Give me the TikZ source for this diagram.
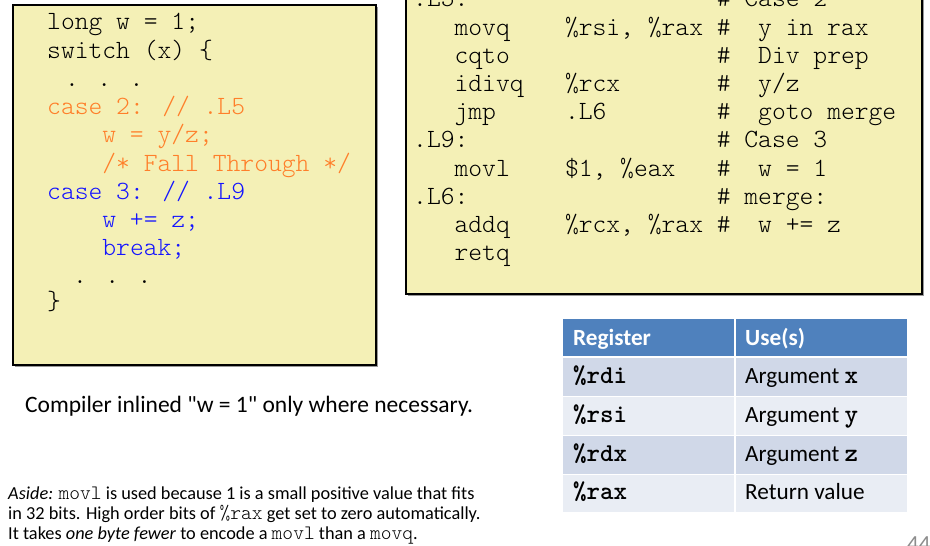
\documentclass[tikz,border=0pt]{standalone}
\usepackage{fontspec}
\setmainfont{Carlito}[Ligatures=TeXOff]
\setmonofont{lmmonolt10}[Extension=.otf, UprightFont=*-regular, BoldFont=*-bold]
\newfontfamily\codefont{lmmonolt10}[Extension=.otf, UprightFont=*-regular, BoldFont=*-bold]
\definecolor{boxfill}{HTML}{F4F0B6}
\definecolor{caseorange}{HTML}{FF7F2A}
\definecolor{caseblue}{HTML}{1414FF}
\definecolor{headblue}{HTML}{4F81BD}
\definecolor{rowdark}{HTML}{D0D8E8}
\definecolor{rowlight}{HTML}{E9EDF4}
\definecolor{pagegray}{HTML}{8C8C8C}
\tikzset{
  codebox/.style={draw=black, line width=2.6pt, fill=boxfill},
  boxshadow/.style={fill=black!40},
  code/.style={anchor=base west, inner sep=0pt, font=\codefont\fontsize{26.3}{28}\selectfont},
  cellhead/.style={anchor=base west, inner sep=0pt, text=white, font=\fontsize{23.2}{26}\selectfont\bfseries},
  cell/.style={anchor=base west, inner sep=0pt, font=\fontsize{23.2}{26}\selectfont},
  regname/.style={anchor=base west, inner sep=0pt, font=\ttfamily\bfseries\fontsize{25.7}{26}\selectfont},
  note/.style={anchor=base west, inner sep=0pt, font=\fontsize{23.5}{26}\selectfont},
  aside/.style={anchor=base west, inner sep=0pt, font=\fontsize{18.3}{20}\selectfont},
}
\newcommand\asidett[1]{{\ttfamily\fontsize{20.5}{20}\selectfont #1}}
\newcommand\argtt[1]{{\ttfamily\bfseries\fontsize{25.7}{26}\selectfont #1}}
\begin{document}
\begin{tikzpicture}[x=1pt,y=-1pt]
\useasboundingbox (0,0) rectangle (930,546);
\clip (0,0) rectangle (930,546);

% ---- C source box ----
\fill[boxshadow] (14.5,6.5) rectangle (377.5,366.5);
\draw[codebox] (13,5) rectangle (376,365);
\node[code] (c1) at (47,30) {long w = 1;};
\node[code] (c2) at (47,58.2) {switch (x) \{};
\node[code] (c3) at (65,86.4) {. . .};
\node[code, text=caseorange] (c4) at (47,114.6) {case 2: // .L5};
\node[code, text=caseorange] (c5) at (102.2,142.8) {w = y/z;};
\node[code, text=caseorange] (c6) at (102.2,171) {/* Fall Through */};
\node[code, text=caseblue] (c7) at (47,199.2) {case 3: // .L9};
\node[code, text=caseblue] (c8) at (102.2,227.4) {w += z;};
\node[code, text=caseblue] (c9) at (102.2,255.6) {break;};
\node[code] (c10) at (73,283.8) {. . .};
\node[code] (c11) at (47,309) {\}};

% ---- assembly box ----
% columns: label 413, mnemonic 454.4, operands 564.8, comment 716.6
\fill[boxshadow] (407.5,-20) rectangle (923.5,295.5);
\draw[codebox] (406,-20) rectangle (922,294);
\node[code] (l0) at (413,6.8) {.L5:};
\node[code] (k0) at (716.6,6.8) {\#~Case~2};
\node[code] (i1) at (454.4,35) {movq};
\node[code] (o1) at (564.8,35) {\%rsi, \%rax};
\node[code] (k1) at (716.6,35) {\#~~y in rax};
\node[code] (i2) at (454.4,63.2) {cqto};
\node[code] (k2) at (716.6,63.2) {\#~~Div prep};
\node[code] (i3) at (454.4,91.4) {idivq};
\node[code] (o3) at (564.8,91.4) {\%rcx};
\node[code] (k3) at (716.6,91.4) {\#~~y/z};
\node[code] (i4) at (454.4,119.6) {jmp};
\node[code] (o4) at (564.8,119.6) {.L6};
\node[code] (k4) at (716.6,119.6) {\#~~goto merge};
\node[code] (l5) at (413,147.8) {.L9:};
\node[code] (k5) at (716.6,147.8) {\#~Case~3};
\node[code] (i6) at (454.4,176) {movl};
\node[code] (o6) at (564.8,176) {\$1, \%eax};
\node[code] (k6) at (716.6,176) {\#~~w = 1};
\node[code] (l7) at (413,204.2) {.L6:};
\node[code] (k7) at (716.6,204.2) {\#~merge:};
\node[code] (i8) at (454.4,232.4) {addq};
\node[code] (o8) at (564.8,232.4) {\%rcx, \%rax};
\node[code] (k8) at (716.6,232.4) {\#~~w += z};
\node[code] (i9) at (454.4,260.6) {retq};

% ---- register table ----
\fill[headblue] (563,319) rectangle (907,357);
\fill[rowdark]  (563,357) rectangle (907,396.5);
\fill[rowlight] (563,396.5) rectangle (907,435.5);
\fill[rowdark]  (563,435.5) rectangle (907,474.5);
\fill[rowlight] (563,474.5) rectangle (907,512);
\draw[white, line width=2pt] (563,357) -- (907,357);
\draw[white, line width=1.5pt] (563,396.5) -- (907,396.5);
\draw[white, line width=1.5pt] (563,435.5) -- (907,435.5);
\draw[white, line width=1.5pt] (563,474.5) -- (907,474.5);
\draw[white, line width=1.5pt] (735,319) -- (735,512);
\node[cellhead] (h1) at (573,345) {Register};
\node[cellhead] (h2) at (745,345) {Use(s)};
\node[regname] (r1) at (573,383.5) {\%rdi};
\node[regname] (r2) at (573,422.5) {\%rsi};
\node[regname] (r3) at (573,461) {\%rdx};
\node[regname] (r4) at (573,499.5) {\%rax};
\node[cell] (u1) at (745,383.5) {Argument \argtt{x}};
\node[cell] (u2) at (745,422.5) {Argument \argtt{y}};
\node[cell] (u3) at (745,461) {Argument \argtt{z}};
\node[cell] (u4) at (745,499.5) {Return value};

% ---- notes ----
\node[note] (inl) at (25,412) {Compiler inlined "w = 1" only where necessary.};
\node[aside] (as1) at (8,499) {\textit{Aside:} \asidett{movl} is used because 1 is a small positive value that fits};
\node[aside] (as2) at (8,519) {in 32 bits. High order bits of \asidett{\%rax} get set to zero automatically.};
\node[aside] (as3) at (8,539) {It takes \textit{one byte fewer} to encode a \asidett{movl} than a \asidett{movq}.};

% ---- page number ----
\node[anchor=base west, inner sep=0pt, text=pagegray, font=\fontsize{23}{26}\selectfont] (pg) at (907,551) {44};
\end{tikzpicture}
\end{document}
